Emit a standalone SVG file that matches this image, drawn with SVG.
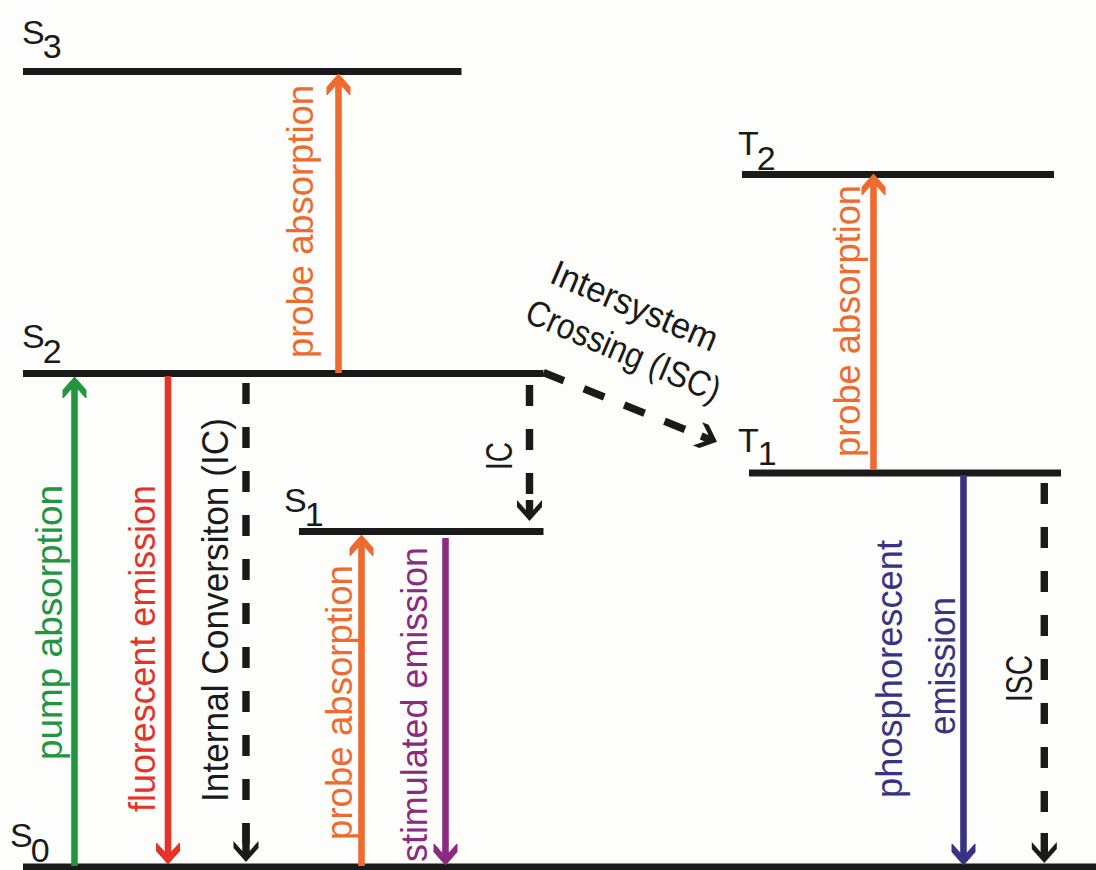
<svg xmlns="http://www.w3.org/2000/svg" xmlns:xlink="http://www.w3.org/1999/xlink" width="1096" height="870" viewBox="0 0 1096 870">
<style>
.lvl{stroke:#1a1a1a;stroke-width:7;fill:none;}
.lbl{font-family:"Liberation Sans",Arial,sans-serif;font-size:34px;fill:#1a1a1a;}
.vt{font-family:"Liberation Sans",Arial,sans-serif;font-size:36px;}
.shaft{stroke-width:6.6;fill:none;}
.dash{stroke:#1a1a1a;stroke-width:7.4;stroke-dasharray:21 23;fill:none;}
.stub{stroke:#1a1a1a;stroke-width:7.4;fill:none;}
.green{fill:#21963f;stroke:#21963f;}
.red{fill:#e5332a;stroke:#e5332a;}
.orange{fill:#ee6b2f;stroke:#ee6b2f;}
.purple{fill:#8a2b80;stroke:#8a2b80;}
.navy{fill:#3a3384;stroke:#3a3384;}
.blk{fill:#1a1a1a;}
text.green,text.red,text.orange,text.purple,text.navy{stroke:none;}
</style>
<defs>
<path id="hs" d="M0,0 L-13,-11.5 L-21,-11.5 L-12,-3.3 L-12,3.3 L-21,11.5 L-13,11.5 Z"/>
<path id="hd" d="M0,0 L-14,-12.5 L-21,-12.5 L-11,-3.7 L-11,3.7 L-21,12.5 L-14,12.5 Z"/>
</defs>
<rect x="0" y="0" width="1096" height="870" fill="#fdfdfb"/>

<g id="level-S3">
<line class="lvl" x1="23" y1="71.5" x2="461.5" y2="71.5"/>
<text class="lbl" x="22" y="44">S<tspan dx="-2" dy="14">3</tspan></text>
</g>
<g id="level-S2">
<line class="lvl" x1="23" y1="373.5" x2="543.5" y2="373.5"/>
<text class="lbl" x="22" y="348">S<tspan dx="-2" dy="15">2</tspan></text>
</g>
<g id="level-S1">
<line class="lvl" x1="299" y1="531.5" x2="543.5" y2="531.5"/>
<text class="lbl" x="284" y="512">S<tspan dx="-2" dy="14">1</tspan></text>
</g>
<g id="level-S0">
<line class="lvl" x1="23" y1="867" x2="1096" y2="867"/>
<text class="lbl" x="10" y="847">S<tspan dx="-2" dy="15">0</tspan></text>
</g>
<g id="level-T2">
<line class="lvl" x1="742" y1="174.5" x2="1054" y2="174.5"/>
<text class="lbl" x="738" y="155">T<tspan dx="-2" dy="15">2</tspan></text>
</g>
<g id="level-T1">
<line class="lvl" x1="749" y1="473" x2="1061" y2="473"/>
<text class="lbl" x="738" y="452">T<tspan dx="-1" dy="13">1</tspan></text>
</g>

<g id="connectors">
<g id="pump-absorption" class="green">
<line class="shaft" x1="74.5" y1="866" x2="74.5" y2="389"/>
<use xlink:href="#hs" transform="translate(74.5,377) rotate(-90)"/>
<text class="vt green" transform="translate(62,760) rotate(-90)" textLength="275" lengthAdjust="spacingAndGlyphs">pump absorption</text>
</g>
<g id="fluorescent-emission" class="red">
<line class="shaft" x1="168" y1="376" x2="168" y2="852"/>
<use xlink:href="#hs" transform="translate(168,864) rotate(90)"/>
<text class="vt red" transform="translate(155,812) rotate(-90)" textLength="327" lengthAdjust="spacingAndGlyphs">fluorescent emission</text>
</g>
<g id="internal-conversion">
<line class="dash" x1="246" y1="383" x2="246" y2="852"/>
<line class="stub" x1="246" y1="823" x2="246" y2="852"/>
<use class="blk" xlink:href="#hd" transform="translate(246,862) rotate(90)"/>
<text class="vt blk" transform="translate(228,802) rotate(-90)" textLength="384" lengthAdjust="spacingAndGlyphs">Internal Conversiton (IC)</text>
</g>
<g id="probe-absorption-S2-S3" class="orange">
<line class="shaft" x1="338.5" y1="373" x2="338.5" y2="86"/>
<use xlink:href="#hs" transform="translate(338.5,74) rotate(-90)"/>
<text class="vt orange" transform="translate(313,358) rotate(-90)" textLength="273" lengthAdjust="spacingAndGlyphs">probe absorption</text>
</g>
<g id="probe-absorption-S0-S1" class="orange">
<line class="shaft" x1="361.5" y1="866" x2="361.5" y2="547"/>
<use xlink:href="#hs" transform="translate(361.5,535) rotate(-90)"/>
<text class="vt orange" transform="translate(352,840) rotate(-90)" textLength="275" lengthAdjust="spacingAndGlyphs">probe absorption</text>
</g>
<g id="stimulated-emission" class="purple">
<line class="shaft" x1="445.5" y1="538" x2="445.5" y2="853"/>
<use xlink:href="#hs" transform="translate(445.5,865) rotate(90)"/>
<text class="vt purple" transform="translate(427,862) rotate(-90)" textLength="315" lengthAdjust="spacingAndGlyphs">stimulated emission</text>
</g>
<g id="ic-S2-S1">
<line class="dash" x1="529.5" y1="385" x2="529.5" y2="496"/>
<line class="stub" x1="529.5" y1="500" x2="529.5" y2="511"/>
<use class="blk" xlink:href="#hd" transform="translate(529.5,521) rotate(90)"/>
<text class="vt blk" transform="translate(512,470) rotate(-90)" textLength="28" lengthAdjust="spacingAndGlyphs">IC</text>
</g>
<g id="isc-S2-T1">
<line x1="543.5" y1="372.5" x2="685.4" y2="429.7" stroke="#1a1a1a" stroke-width="7.4" stroke-dasharray="22 21.5"/>
<line class="stub" x1="701.2" y1="436" x2="706.8" y2="438.3"/>
<use class="blk" xlink:href="#hd" transform="translate(717,441.7) rotate(21.94)"/>
<g transform="translate(548,282) rotate(23.2)">
<text class="vt blk" x="0" y="0" textLength="178" lengthAdjust="spacingAndGlyphs">Intersystem</text>
<text class="vt blk" x="-7.5" y="45.7" textLength="208" lengthAdjust="spacingAndGlyphs">Crossing (ISC)</text>
</g>
</g>
<g id="probe-absorption-T1-T2" class="orange">
<line class="shaft" x1="873.5" y1="470" x2="873.5" y2="186"/>
<use xlink:href="#hs" transform="translate(873.5,174) rotate(-90)"/>
<text class="vt orange" transform="translate(860,457) rotate(-90)" textLength="272" lengthAdjust="spacingAndGlyphs">probe absorption</text>
</g>
<g id="phosphorescent-emission" class="navy">
<line class="shaft" x1="963.5" y1="475" x2="963.5" y2="853"/>
<use xlink:href="#hs" transform="translate(963.5,865) rotate(90)"/>
<text class="vt navy" transform="translate(902,798) rotate(-90)" textLength="258" lengthAdjust="spacingAndGlyphs">phosphorescent</text>
<text class="vt navy" transform="translate(955,735) rotate(-90)" textLength="138" lengthAdjust="spacingAndGlyphs">emission</text>
</g>
<g id="isc-T1-S0">
<line class="dash" x1="1044.3" y1="483" x2="1044.3" y2="813"/>
<line class="stub" x1="1044.3" y1="833" x2="1044.3" y2="853"/>
<use class="blk" xlink:href="#hd" transform="translate(1044.3,863) rotate(90)"/>
<text class="vt blk" transform="translate(1032,702) rotate(-90)" textLength="47" lengthAdjust="spacingAndGlyphs">ISC</text>
</g>
</g>
</svg>
